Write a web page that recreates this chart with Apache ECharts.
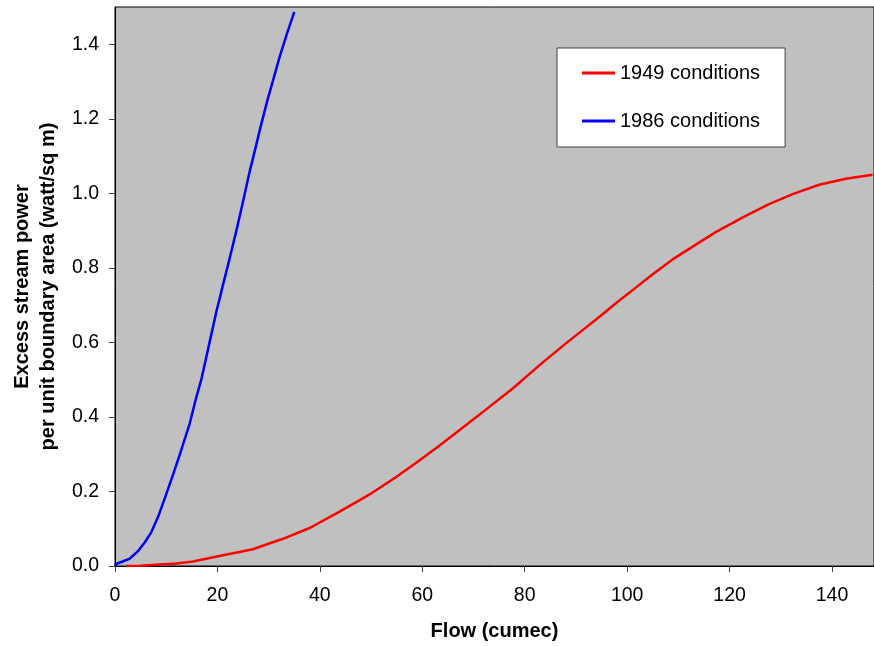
<!DOCTYPE html>
<html>
<head>
<meta charset="utf-8">
<script src="https://cdn.jsdelivr.net/npm/echarts@6/dist/echarts.min.js"></script>
<style>html,body{margin:0;padding:0;background:#fff;}#c{width:874px;height:646px;}</style>
</head>
<body>
<div id="c"></div>
<script>
const xTicks = [0, 20, 40, 60, 80, 100, 120, 140];
const yTicks = [0, 0.2, 0.4, 0.6, 0.8, 1.0, 1.2, 1.4];
const seriesNames = ['1949 conditions', '1986 conditions'];
const flow1949 = [2.2, 5, 8.7, 12, 15.2, 20.4, 26.9, 32.8, 38, 43.5, 47.7, 49.7, 54.9, 59.5, 63.5, 67.3, 73.1, 77.7, 82.9, 88.1, 91.5, 94.6, 97.8, 101.5, 105, 108.8, 112.8, 117.3, 122.5, 127.7, 132.3, 137.5, 142.7, 147.9];
const power1949 = [0, 0.001, 0.004, 0.007, 0.012, 0.027, 0.045, 0.073, 0.102, 0.143, 0.176, 0.192, 0.239, 0.284, 0.325, 0.365, 0.427, 0.477, 0.539, 0.598, 0.635, 0.669, 0.705, 0.745, 0.783, 0.822, 0.857, 0.896, 0.935, 0.971, 0.998, 1.023, 1.039, 1.05];
const flow1986 = [0, 0.3, 1.5, 2.9, 4.5, 5.8, 7.1, 8.5, 9.7, 11.2, 12.6, 14.6, 15.9, 16.9, 18.3, 19.8, 21.1, 22.4, 23.7, 25.0, 26.3, 27.4, 28.4, 29.9, 31.0, 32.1, 33.5, 35.0];
const power1986 = [0, 0.006, 0.012, 0.02, 0.04, 0.063, 0.091, 0.135, 0.181, 0.24, 0.297, 0.383, 0.454, 0.503, 0.59, 0.683, 0.755, 0.826, 0.9, 0.978, 1.059, 1.12, 1.177, 1.257, 1.31, 1.364, 1.425, 1.487];

const pairs = (xs, ys) => xs.map((x, i) => [x, ys[i]]);
const FONT = 'Liberation Sans, Arial, sans-serif';

const chart = echarts.init(document.getElementById('c'), null, {renderer: 'canvas'});
chart.setOption({
  animation: false,
  backgroundColor: '#fff',
  textStyle: {fontFamily: FONT},
  grid: {left: 115, top: 7, right: -1, bottom: 79, show: true, backgroundColor: '#c0c0c0', borderColor: '#000', borderWidth: 1},
  legend: {
    data: seriesNames,
    orient: 'vertical',
    left: 557, top: 48,
    padding: [13, 25, 14, 25],
    itemGap: 24,
    itemWidth: 33, itemHeight: 3,
    itemTextGap: 6,
    icon: 'rect',
    backgroundColor: '#fff',
    borderColor: '#404040', borderWidth: 1, borderRadius: 0,
    textStyle: {fontSize: 20, color: '#000', lineHeight: 24, fontFamily: FONT}
  },
  xAxis: {
    type: 'value', min: 0, max: 148.2,
    name: 'Flow (cumec)', nameLocation: 'middle', nameGap: 55,
    nameTextStyle: {fontSize: 20, fontWeight: 'bold', color: '#000', fontFamily: FONT},
    axisLine: {show: true, lineStyle: {color: '#000', width: 1}},
    axisTick: {show: true, length: 6, lineStyle: {color: '#404040'}, customValues: xTicks},
    axisLabel: {fontSize: 19.5, color: '#000', margin: 20, customValues: xTicks, fontFamily: FONT},
    splitLine: {show: false}
  },
  yAxis: {
    type: 'value', min: 0, max: 1.5,
    name: 'Excess stream power\nper unit boundary area (watt/sq m)',
    nameLocation: 'middle', nameGap: 54, nameRotate: 90,
    nameTextStyle: {fontSize: 20, fontWeight: 'bold', color: '#000', lineHeight: 26, align: 'center', fontFamily: FONT},
    axisLine: {show: true, lineStyle: {color: '#000', width: 1}},
    axisTick: {show: true, length: 6, lineStyle: {color: '#404040'}, customValues: yTicks},
    axisLabel: {fontSize: 19.5, color: '#000', margin: 16, customValues: yTicks, formatter: v => v.toFixed(1), fontFamily: FONT},
    splitLine: {show: false}
  },
  series: [
    {name: seriesNames[0], type: 'line', data: pairs(flow1949, power1949), showSymbol: false, smooth: false, lineStyle: {color: '#ff0000', width: 2.5, join: 'round'}, itemStyle: {color: '#ff0000'}},
    {name: seriesNames[1], type: 'line', data: pairs(flow1986, power1986), showSymbol: false, smooth: false, lineStyle: {color: '#0000ff', width: 2.5, join: 'round'}, itemStyle: {color: '#0000ff'}}
  ]
});
</script>
</body>
</html>
